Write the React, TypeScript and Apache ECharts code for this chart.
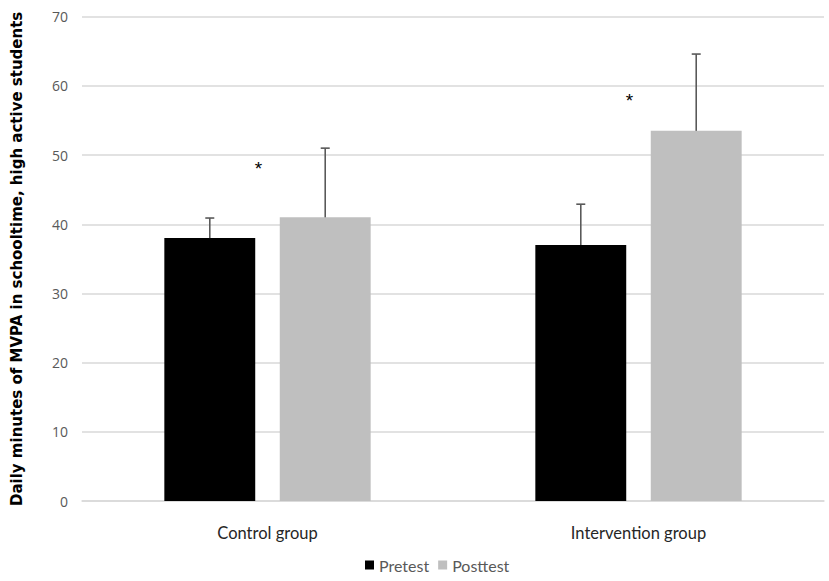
import React, { useEffect, useRef } from "react";
import * as echarts from "echarts";

const categories = ["Control group", "Intervention group"];
const seriesNames = ["Pretest", "Posttest"];
const pretest = [38, 37];
const posttest = [41, 53.5];
const pretestErr = [2.9, 5.9];
const posttestErr = [10, 11.1];
const significanceY = [48.7, 58.5];
const yTicks = [0, 10, 20, 30, 40, 50, 60, 70];

const BAR_W = 0.245;
const BAR_GAP = 0.27;

export default function App() {
  const ref = useRef<HTMLDivElement>(null);
  useEffect(() => {
    document.body.style.margin = "0";
    const chart = echarts.init(ref.current!, null, { renderer: "svg" });
    const errData = (vals: number[], errs: number[]) =>
      vals.map((v, i) => [i, v, v + errs[i]]);
    const errRender = (sign: number) => (params: any, api: any) => {
      const idx = api.value(0);
      const lo = api.coord([idx, api.value(1)]);
      const hi = api.coord([idx, api.value(2)]);
      const band = api.size([1, 0])[0];
      const bw = band * BAR_W;
      const off = (bw + bw * BAR_GAP) / 2;
      const x = lo[0] + sign * off;
      const style = { stroke: "#595959", lineWidth: 1.6 };
      return {
        type: "group",
        children: [
          { type: "line", shape: { x1: x, y1: lo[1], x2: x, y2: hi[1] }, style },
          { type: "line", shape: { x1: x - 4.5, y1: hi[1], x2: x + 4.5, y2: hi[1] }, style },
        ],
      };
    };
    chart.setOption({
      animation: false,
      grid: { left: 82, right: 5, top: 16.7, bottom: 80, outerBoundsMode: "none", containLabel: false },
      legend: {
        bottom: 3,
        left: 360,
        itemWidth: 9,
        itemHeight: 9,
        itemGap: 9,
        icon: "rect",
        textStyle: { color: "#595959", fontSize: 16, fontFamily: "Lato" },
        data: seriesNames,
      },
      xAxis: {
        type: "category",
        data: categories,
        axisLine: { lineStyle: { color: "#d9d9d9", width: 1.5 } },
        axisTick: { show: false },
        axisLabel: { color: "#262626", fontSize: 16.5, fontFamily: "Lato", margin: 23 },
      },
      yAxis: {
        type: "value",
        min: 0,
        max: 70,
        interval: 10,
        name: "Daily minutes of MVPA in schooltime, high active students",
        nameLocation: "middle",
        nameGap: 58,
        nameTextStyle: {
          color: "#000",
          fontSize: 15,
          fontWeight: "bold",
          fontFamily: "DejaVu Sans",
        },
        axisLabel: {
          color: "#595959",
          fontSize: 14,
          fontFamily: "Open Sans",
          margin: 14,
          formatter: (v: number) => (yTicks.includes(v) ? String(v) : ""),
        },
        splitLine: { lineStyle: { color: "#d9d9d9", width: 1.5 } },
        axisLine: { show: false },
        axisTick: { show: false },
      },
      series: [
        {
          name: seriesNames[0],
          type: "bar",
          data: pretest,
          barWidth: BAR_W * 100 + "%",
          barGap: BAR_GAP * 100 + "%",
          itemStyle: { color: "#000000" },
        },
        {
          name: seriesNames[1],
          type: "bar",
          data: posttest,
          barWidth: BAR_W * 100 + "%",
          barGap: BAR_GAP * 100 + "%",
          itemStyle: { color: "#bfbfbf" },
        },
        {
          type: "custom",
          data: errData(pretest, pretestErr),
          renderItem: errRender(-1),
          encode: { x: 0, y: [1, 2] },
          z: 10,
          silent: true,
        },
        {
          type: "custom",
          data: errData(posttest, posttestErr),
          renderItem: errRender(1),
          encode: { x: 0, y: [1, 2] },
          z: 10,
          silent: true,
        },
        {
          type: "custom",
          data: significanceY.map((v, i) => [i, v]),
          encode: { x: 0, y: 1 },
          renderItem: (params: any, api: any) => {
            const p = api.coord([api.value(0), api.value(1)]);
            return {
              type: "text",
              x: p[0] - 9,
              y: p[1] + 4,
              style: {
                text: "*",
                fill: "#000",
                fontSize: 19,
                fontFamily: "Liberation Sans",
                align: "center",
                verticalAlign: "middle",
              },
            };
          },
          z: 10,
          silent: true,
        },
      ],
    });
    return () => chart.dispose();
  }, []);
  return (
    <div
      ref={ref}
      style={{ position: "absolute", left: 0, top: 0, width: 829, height: 581, background: "#fff" }}
    />
  );
}
